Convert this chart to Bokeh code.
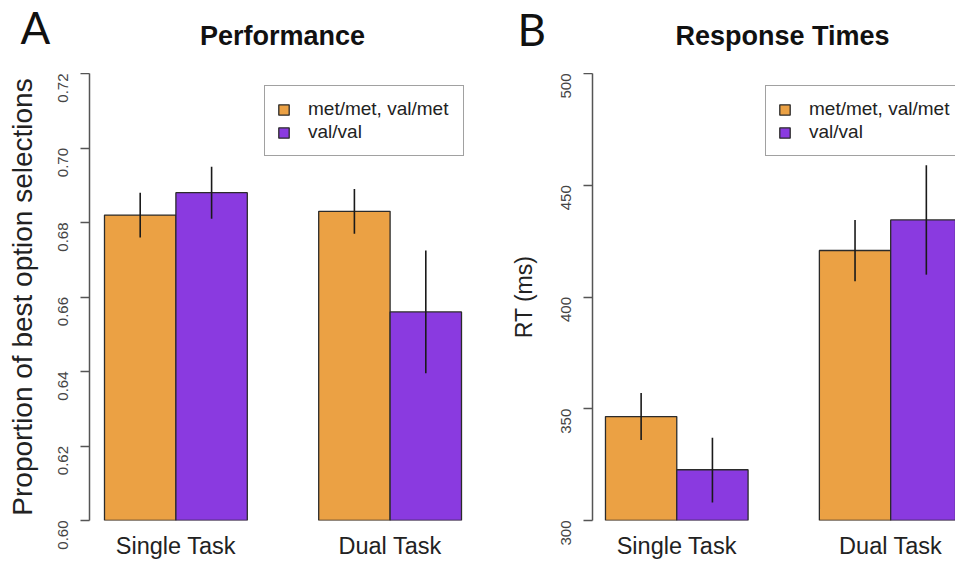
import math
from bokeh.plotting import figure
from bokeh.layouts import row, column
from bokeh.models import FixedTicker, Label, Range1d, NumeralTickFormatter
from bokeh.embed import file_html
from bokeh.resources import INLINE

# ---- data ----
groups = ["Single Task", "Dual Task"]
series = ["met/met, val/met", "val/val"]

perf_met = [0.682, 0.683]
perf_val = [0.688, 0.656]
perf_met_lo = [0.676, 0.677]
perf_met_hi = [0.688, 0.689]
perf_val_lo = [0.681, 0.6395]
perf_val_hi = [0.695, 0.6725]
perf_ticks = [0.60, 0.62, 0.64, 0.66, 0.68, 0.70, 0.72]

rt_met = [346.5, 420.8]
rt_val = [322.7, 434.5]
rt_met_lo = [336.0, 407.0]
rt_met_hi = [357.0, 434.5]
rt_val_lo = [308.0, 410.0]
rt_val_hi = [337.0, 459.0]
rt_ticks = [300, 350, 400, 450, 500]

ORANGE = "#EBA144"
PURPLE = "#8A3AE0"
OUTLINE = "#2b2b2b"
FONT = "Liberation Sans"

HEAD = 73      # height of the header strip (panel letter + title)
H = 491        # height of each plot below it
BOTTOM = 44


def header(width, letter, letter_x, letter_mid, title, title_x, title_mid):
    h = figure(width=width, height=HEAD, output_backend="svg", toolbar_location=None,
               title=None, x_axis_location=None, y_axis_location=None,
               x_range=Range1d(0, width), y_range=Range1d(0, HEAD),
               min_border_left=0, min_border_right=0, min_border_top=0, min_border_bottom=0)
    h.outline_line_color = None
    h.xgrid.visible = False
    h.ygrid.visible = False
    h.border_fill_color = "white"
    h.add_layout(Label(x=letter_x, y=HEAD - letter_mid, text=letter, text_font="Lato",
                       text_font_size="44px", text_color="#111111",
                       text_baseline="middle", text_align="left"))
    h.add_layout(Label(x=title_x, y=HEAD - title_mid, text=title, text_font=FONT,
                       text_font_size="27px", text_font_style="bold", text_color="#111111",
                       text_baseline="middle", text_align="center"))
    return h


def panel(ylabel, ylabel_size, ylabel_standoff, yticks, fmt,
          met, val, met_lo, met_hi, val_lo, val_hi,
          width, border_left, border_right, xstart, xend, legend_x):
    p = figure(width=width, height=H, output_backend="svg", toolbar_location=None,
               title=None,
               x_range=Range1d(xstart, xend),
               y_range=Range1d(yticks[0], yticks[-1]),
               min_border_left=border_left, min_border_right=border_right,
               min_border_top=0, min_border_bottom=BOTTOM)
    p.outline_line_color = None
    p.xgrid.visible = False
    p.ygrid.visible = False
    p.background_fill_color = "white"
    p.border_fill_color = "white"

    base = [1 + 3 * i for i in range(len(groups))]
    x_met = [b + 0.5 for b in base]
    x_val = [b + 1.5 for b in base]
    centers = [b + 1 for b in base]

    p.vbar(x=x_met, top=met, bottom=0, width=1, fill_color=ORANGE,
           line_color=OUTLINE, line_width=1.3, legend_label=series[0])
    p.vbar(x=x_val, top=val, bottom=0, width=1, fill_color=PURPLE,
           line_color=OUTLINE, line_width=1.3, legend_label=series[1])
    p.segment(x0=x_met, y0=met_lo, x1=x_met, y1=met_hi, line_color="#1a1a1a", line_width=1.6)
    p.segment(x0=x_val, y0=val_lo, x1=x_val, y1=val_hi, line_color="#1a1a1a", line_width=1.6)

    ya = p.yaxis[0]
    ya.ticker = FixedTicker(ticks=yticks)
    ya.formatter = NumeralTickFormatter(format=fmt)
    ya.major_label_orientation = math.pi / 2
    ya.major_label_text_font = FONT
    ya.major_label_text_font_size = "15px"
    ya.major_label_text_color = "#444444"
    ya.major_label_standoff = 18
    ya.major_tick_in = 0
    ya.major_tick_out = 9
    ya.minor_tick_line_color = None
    ya.axis_line_color = "#555555"
    ya.axis_line_width = 1.5
    ya.major_tick_line_color = "#555555"
    ya.major_tick_line_width = 1.5
    ya.axis_label = ylabel
    ya.axis_label_text_font = FONT
    ya.axis_label_text_font_style = "normal"
    ya.axis_label_text_font_size = ylabel_size
    ya.axis_label_text_color = "#222222"
    ya.axis_label_standoff = ylabel_standoff

    xa = p.xaxis[0]
    xa.ticker = FixedTicker(ticks=centers)
    xa.major_label_overrides = {c: g for c, g in zip(centers, groups)}
    xa.axis_line_color = None
    xa.major_tick_line_color = None
    xa.minor_tick_line_color = None
    xa.major_tick_out = 0
    xa.major_tick_in = 0
    xa.major_label_text_font = FONT
    xa.major_label_text_font_size = "23.5px"
    xa.major_label_text_color = "#222222"
    xa.major_label_standoff = 12

    lg = p.legend[0]
    lg.location = (legend_x, 364)
    lg.border_line_color = "#444444"
    lg.border_line_width = 1.5
    lg.background_fill_alpha = 1.0
    lg.padding = 12
    lg.margin = 0
    lg.spacing = 1
    lg.glyph_width = 13
    lg.glyph_height = 13
    lg.label_standoff = 18
    lg.label_width = 143
    lg.label_text_font = FONT
    lg.label_text_font_size = "19px"
    lg.label_text_color = "#222222"
    lg.label_height = 21
    return p


h1 = header(477, "A", 20, 26, "Performance", 282, 35.5)
h2 = header(478, "B", 40, 28, "Response Times", 305, 35.5)

p1 = panel("Proportion of best option selections", "28px", 12,
           perf_ticks, "0.00",
           perf_met, perf_val, perf_met_lo, perf_met_hi, perf_val_lo, perf_val_hi,
           477, 89, 2, 0.79, 6.196, 175)
p2 = panel("RT (ms)", "23px", 16,
           rt_ticks, "0",
           rt_met, rt_val, rt_met_lo, rt_met_hi, rt_val_lo, rt_val_hi,
           478, 115, 0, 0.818, 5.909, 173)

layout = column(row(h1, h2), row(p1, p2))
open("out.html", "w").write(file_html(layout, INLINE))
